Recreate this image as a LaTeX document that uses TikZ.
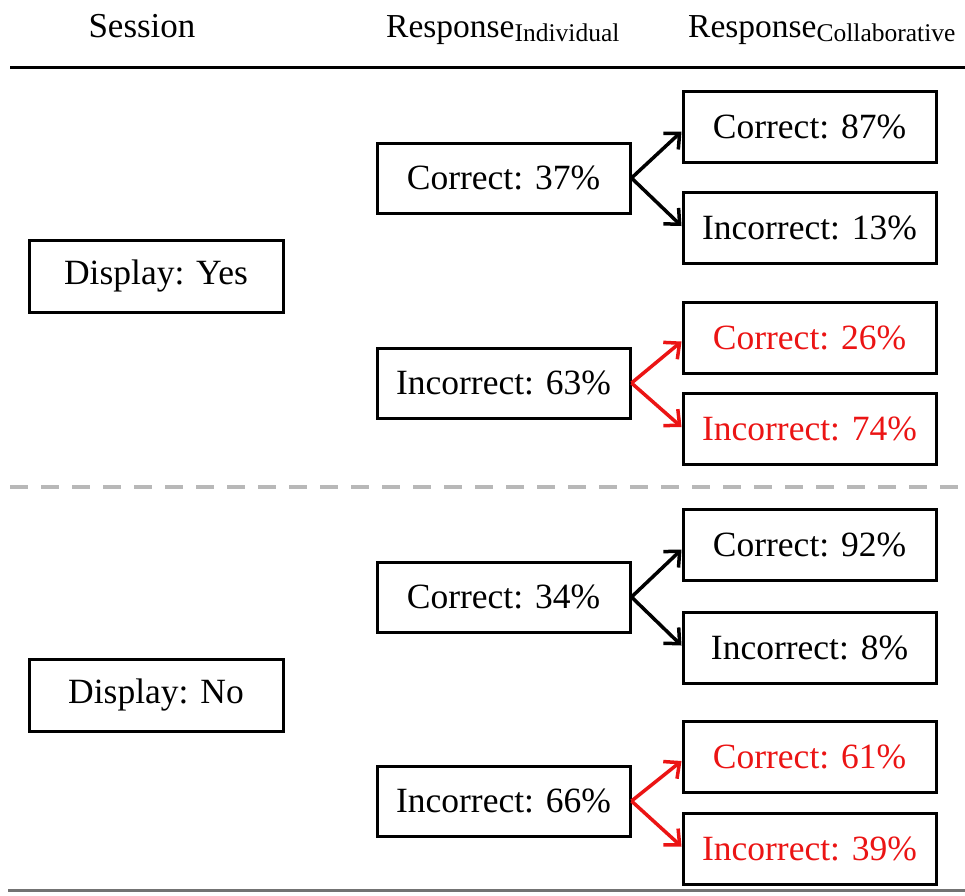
\documentclass[tikz,border=0pt]{standalone}
\usepackage{fontspec}
\setmainfont{Liberation Serif}
\usetikzlibrary{arrows.meta,calc}
\definecolor{arrred}{RGB}{235,20,20}
\tikzset{
  box/.style={draw=black, line width=3pt, inner sep=0pt, minimum width=253pt, minimum height=71pt,
    font=\fontsize{35.5}{40}\selectfont},
  redtext/.style={text=arrred},
  hdr/.style={anchor=base west, inner sep=0pt, font=\fontsize{33.5}{38}\selectfont},
  arr/.style={line width=3.5pt, -{Straight Barb[length=12pt,width=22pt,line width=3.5pt]}},
  blackarr/.style={arr, draw=black},
  redarr/.style={arr, draw=arrred},
}
\newcommand{\subtxt}[1]{\raisebox{-4pt}{\fontsize{25.5}{30}\selectfont #1}}
\begin{document}
\begin{tikzpicture}[x=1pt,y=-1pt]
\useasboundingbox (0,0) rectangle (965,895);
% headers
\node[hdr, anchor=base] (hs) at (142,37) {\fontsize{35}{40}\selectfont Session};
\node[hdr] (hi) at (386,37) {Response\subtxt{Individual}};
\node[hdr] (hc) at (688,37) {Response\subtxt{Collaborative}};
% rules
\draw[line width=3pt] (10,67) -- (965,67);
\draw[line width=4pt, color=black!28, dash pattern=on 18pt off 13pt] (10,487) -- (965,487);
\draw[line width=3pt, color=black!55] (8,890) -- (965,890);
% session boxes
\node[box, minimum width=254pt, minimum height=72pt] (dy) at (156,276) {Display: Yes};
\node[box, minimum width=254pt, minimum height=72pt] (dn) at (156,695) {Display: No};
% individual
\node[box, minimum height=70pt] (c37) at (503.5,178) {Correct: 37\%};
\node[box, minimum height=70pt] (i63) at (503.5,383) {Incorrect: 63\%};
\node[box, minimum height=70pt] (c34) at (503.5,597) {Correct: 34\%};
\node[box, minimum height=70pt] (i66) at (503.5,801) {Incorrect: 66\%};
% collaborative
\node[box] (c87) at (809.5,126.5) {Correct: 87\%};
\node[box] (i13) at (809.5,228) {Incorrect: 13\%};
\node[box, redtext] (c26) at (809.5,337.5) {Correct: 26\%};
\node[box, redtext] (i74) at (809.5,429) {Incorrect: 74\%};
\node[box] (c92) at (809.5,544.5) {Correct: 92\%};
\node[box] (i8) at (809.5,647.5) {Incorrect: 8\%};
\node[box, redtext] (c61) at (809.5,757) {Correct: 61\%};
\node[box, redtext] (i39) at (809.5,848.5) {Incorrect: 39\%};
% arrows
\draw[blackarr] (c37.east) -- ($(c87.west)+(0,5)$);
\draw[blackarr] (c37.east) -- ($(i13.west)+(0,-2)$);
\draw[redarr] (i63.east) -- ($(c26.west)+(0,4)$);
\draw[redarr] (i63.east) -- ($(i74.west)+(0,-2)$);
\draw[blackarr] (c34.east) -- ($(c92.west)+(0,5)$);
\draw[blackarr] (c34.east) -- ($(i8.west)+(0,-2)$);
\draw[redarr] (i66.east) -- ($(c61.west)+(0,4)$);
\draw[redarr] (i66.east) -- ($(i39.west)+(0,-2)$);
\end{tikzpicture}
\end{document}
